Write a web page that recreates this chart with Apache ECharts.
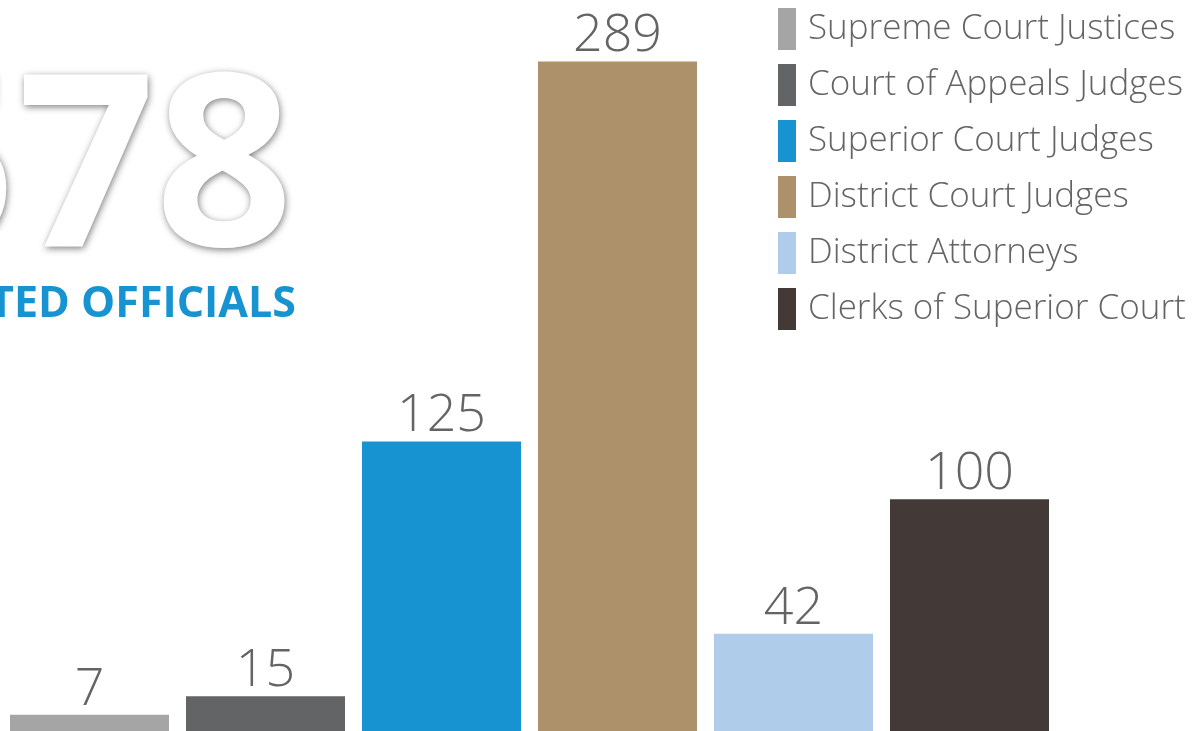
<!DOCTYPE html>
<html>
<head>
<meta charset="utf-8">
<script src="https://cdn.jsdelivr.net/npm/echarts@6/dist/echarts.min.js"></script>
<style>
html,body{margin:0;padding:0;background:#fff;}
#chart{width:1202px;height:731px;}
</style>
</head>
<body>
<div id="chart"></div>
<script>
const categories = ["Supreme Court Justices","Court of Appeals Judges","Superior Court Judges","District Court Judges","District Attorneys","Clerks of Superior Court"];
const values = [7, 15, 125, 289, 42, 100];
const colors = ["#a5a5a5","#636466","#1793d1","#ad916b","#afcdea","#433a37"];
const totalLabel = "578";
const subtitleLabel = "ELECTED OFFICIALS";

const chart = echarts.init(document.getElementById('chart'));
const series = categories.map((name, i) => ({
  name: name,
  type: 'bar',
  stack: 'all',
  barWidth: 159,
  data: values.map((v, j) => j === i ? v : '-'),
  itemStyle: { color: colors[i] },
  label: {
    show: true,
    position: 'top',
    distance: -1,
    color: '#646464',
    fontFamily: 'Open Sans',
    fontSize: 52,
    fontWeight: 300
  },
  emphasis: { disabled: true }
}));

chart.setOption({
  animation: false,
  backgroundColor: '#fff',
  grid: { left: 1.5, right: 144.5, top: 36, bottom: 0, containLabel: false },
  xAxis: {
    type: 'category',
    data: categories,
    axisLine: { show: false },
    axisTick: { show: false },
    axisLabel: { show: false }
  },
  yAxis: {
    type: 'value',
    min: 0,
    max: 300,
    show: false,
    splitLine: { show: false }
  },
  legend: {
    orient: 'vertical',
    left: 778,
    top: 8,
    padding: 0,
    itemWidth: 18,
    itemHeight: 42,
    itemGap: 14,
    icon: 'rect',
    data: categories,
    textStyle: {
      color: '#646464',
      fontFamily: 'Open Sans',
      fontSize: 35,
      fontWeight: 300,
      padding: [0, 0, 0, 7]
    }
  },
  graphic: [
    {
      type: 'text',
      z: 10,
      style: {
        text: totalLabel,
        x: 293,
        y: 57,
        align: 'right',
        verticalAlign: 'top',
        fontFamily: 'Open Sans',
        fontWeight: 'bold',
        fontSize: 241,
        fill: '#ffffff',
        textShadowColor: 'rgba(0,0,0,0.5)',
        textShadowBlur: 7,
        textShadowOffsetX: 1,
        textShadowOffsetY: 2
      }
    },
    {
      type: 'text',
      z: 10,
      style: {
        text: subtitleLabel,
        x: 296,
        y: 283,
        align: 'right',
        verticalAlign: 'top',
        fontFamily: 'Open Sans',
        fontWeight: 'bold',
        fontSize: 43,
        fill: '#1793d1'
      }
    }
  ],
  series: series
});
</script>
</body>
</html>
